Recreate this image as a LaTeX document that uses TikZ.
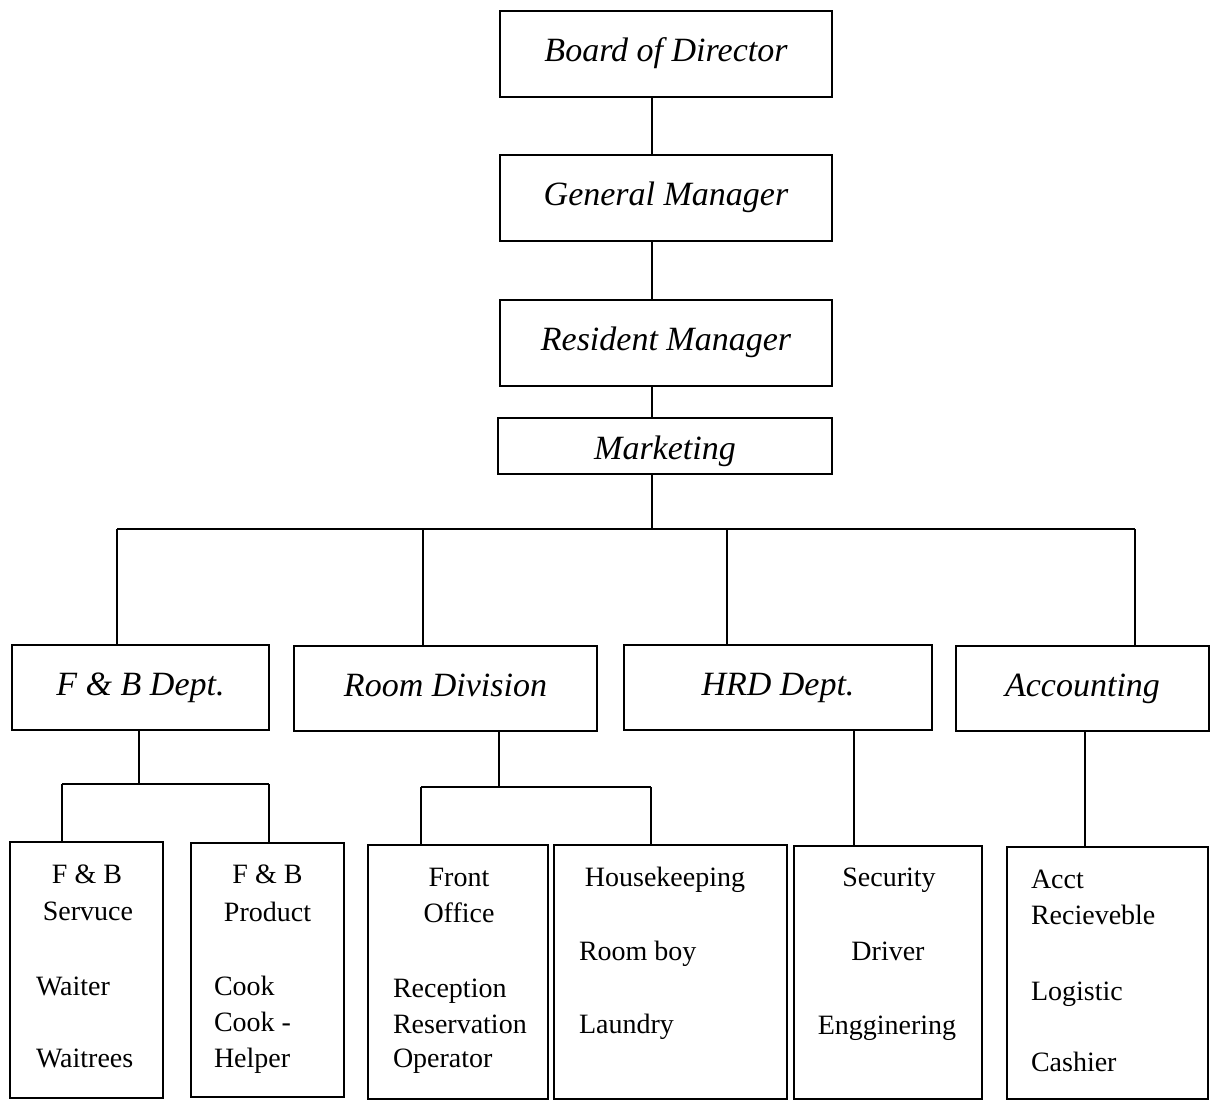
\documentclass[tikz,border=0pt]{standalone}
\usepackage{fontspec}
\setmainfont{Liberation Serif}
\begin{document}
\begin{tikzpicture}[x=0.5pt,y=-0.5pt,
  line width=1pt,
  box/.style={draw, line width=1pt, inner sep=0pt, align=center},
  upbox/.style={box, font=\fontsize{17}{20}\selectfont\itshape, text height=11.6pt, text depth=3.7pt},
  subbox/.style={box},
  lbl/.style={inner sep=0pt, font=\fontsize{14}{16}\selectfont},
  link/.style={line width=1pt}]
\useasboundingbox (0,0) rectangle (1211,1102);

% top chain
\node[upbox, minimum width=166pt, minimum height=43pt] (board) at (666,54) {Board of Director};
\node[upbox, minimum width=166pt, minimum height=43pt] (gm) at (666,198) {General Manager};
\node[upbox, minimum width=166pt, minimum height=43pt] (rm) at (666,343) {Resident Manager};
\node[upbox, minimum width=167pt, minimum height=28pt, text height=13pt, text depth=0pt] (mkt) at (665,446) {Marketing};

% departments
\node[upbox, minimum width=128.5pt, minimum height=42.5pt] (fb) at (140.5,687.5) {F \& B Dept.};
\node[upbox, minimum width=151.5pt, minimum height=42.5pt] (rd) at (445.5,688.5) {Room Division};
\node[upbox, minimum width=154pt, minimum height=42.5pt] (hrd) at (778,687.5) {HRD Dept.};
\node[upbox, minimum width=126.5pt, minimum height=42.5pt] (acc) at (1082.5,688.5) {Accounting};

% sub boxes
\node[subbox, minimum width=76.5pt, minimum height=128pt] (s1) at (86.5,970) {};
\node[subbox, minimum width=76.5pt, minimum height=127pt] (s2) at (267.5,970) {};
\node[subbox, minimum width=90pt, minimum height=127pt] (s3) at (458,972) {};
\node[subbox, minimum width=116.5pt, minimum height=127pt] (s4) at (670.5,972) {};
\node[subbox, minimum width=94pt, minimum height=126.5pt] (s5) at (888,972.5) {};
\node[subbox, minimum width=100.5pt, minimum height=126pt] (s6) at (1107.5,973) {};

% texts in sub boxes
\node[lbl, anchor=base] (a1) at (87,883) {F \& B};
\node[lbl, anchor=base] (a2) at (88,920) {Servuce};
\node[lbl, anchor=base west] (a3) at (35,995) {Waiter};
\node[lbl, anchor=base west] (a4) at (35,1067) {Waitrees};

\node[lbl, anchor=base] (b1) at (267.5,883) {F \& B};
\node[lbl, anchor=base] (b2) at (267.5,921) {Product};
\node[lbl, anchor=base west] (b3) at (213,995) {Cook};
\node[lbl, anchor=base west] (b4) at (213,1031) {Cook -};
\node[lbl, anchor=base west] (b5) at (213,1067) {Helper};

\node[lbl, anchor=base] (c1) at (459,886) {Front};
\node[lbl, anchor=base] (c2) at (459,922) {Office};
\node[lbl, anchor=base west] (c3) at (392,997) {Reception};
\node[lbl, anchor=base west] (c4) at (392,1033) {Reservation};
\node[lbl, anchor=base west] (c5) at (392,1067) {Operator};

\node[lbl, anchor=base] (d1) at (665,886) {Housekeeping};
\node[lbl, anchor=base west] (d2) at (578,960) {Room boy};
\node[lbl, anchor=base west] (d3) at (578,1033) {Laundry};

\node[lbl, anchor=base] (e1) at (889,886) {Security};
\node[lbl, anchor=base] (e2) at (888,960) {Driver};
\node[lbl, anchor=base] (e3) at (887,1034) {Engginering};

\node[lbl, anchor=base west] (f1) at (1030,888) {Acct};
\node[lbl, anchor=base west] (f2) at (1030,924) {Recieveble};
\node[lbl, anchor=base west] (f3) at (1030,1000) {Logistic};
\node[lbl, anchor=base west] (f4) at (1030,1071) {Cashier};

% top connectors
\coordinate (bus) at (652,529);
\draw[link] (board.south -| bus) -- (gm.north -| bus);
\draw[link] (gm.south -| bus) -- (rm.north -| bus);
\draw[link] (rm.south -| bus) -- (mkt.north -| bus);
\draw[link] (mkt.south -| bus) -- (bus);

% department bus
\coordinate (jFB) at (117,529);
\coordinate (jRD) at (423,529);
\coordinate (jHR) at (727,529);
\coordinate (jAC) at (1135,529);
\draw[link] (jFB) -- (jAC);
\draw[link] (jFB) -- (jFB |- fb.north);
\draw[link] (jRD) -- (jRD |- rd.north);
\draw[link] (jHR) -- (jHR |- hrd.north);
\draw[link] (jAC) -- (jAC |- acc.north);

% F&B sub
\coordinate (fbA) at (139,784);
\coordinate (fbL) at (62,784);
\coordinate (fbR) at (269,784);
\draw[link] (fb.south -| fbA) -- (fbA);
\draw[link] (fbL) -- (fbR);
\draw[link] (fbL) -- (fbL |- s1.north);
\draw[link] (fbR) -- (fbR |- s2.north);

% Room division sub
\coordinate (rdA) at (499,787);
\coordinate (rdL) at (421,787);
\coordinate (rdR) at (651,787);
\draw[link] (rd.south -| rdA) -- (rdA);
\draw[link] (rdL) -- (rdR);
\draw[link] (rdL) -- (rdL |- s3.north);
\draw[link] (rdR) -- (rdR |- s4.north);

% HRD and Accounting
\coordinate (hrA) at (854,800);
\coordinate (acA) at (1085,800);
\draw[link] (hrd.south -| hrA) -- (s5.north -| hrA);
\draw[link] (acc.south -| acA) -- (s6.north -| acA);
\end{tikzpicture}
\end{document}
